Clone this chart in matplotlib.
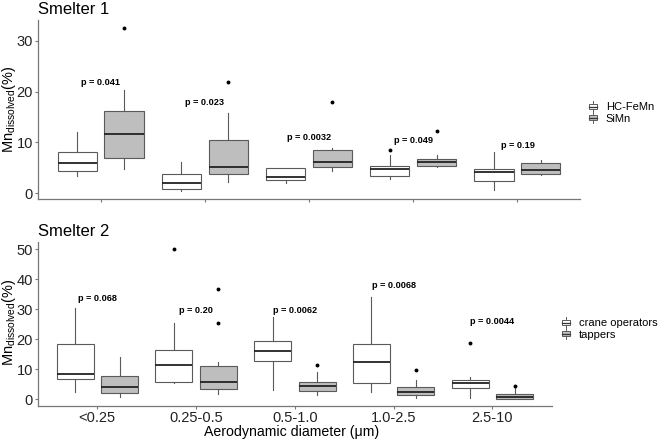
import matplotlib
matplotlib.use('Agg')
import matplotlib.pyplot as plt
from matplotlib.patches import Patch, Rectangle
from matplotlib.lines import Line2D
from matplotlib.legend_handler import HandlerBase

plt.rcParams['font.family'] = ['Liberation Sans', 'DejaVu Sans']
plt.rcParams['mathtext.fontset'] = 'custom'
plt.rcParams['mathtext.rm'] = 'Liberation Sans'

categories = ['<0.25', '0.25-0.5', '0.5-1.0', '1.0-2.5', '2.5-10']

# box stats: (whislo, q1, median, q3, whishi)
hcfemn = [(3.4, 4.4, 6.0, 8.2, 12.0), (0.45, 0.9, 2.0, 3.7, 6.2), (2.1, 2.6, 3.3, 4.9, 5.0),
          (2.8, 3.4, 4.7, 5.3, 7.5), (0.65, 2.4, 4.2, 4.8, 8.1)]
hcfemn_out = [[], [], [], [8.5], []]
simn = [(4.7, 6.9, 11.7, 16.2, 20.4), (2.2, 3.7, 5.2, 10.4, 15.8), (4.4, 5.2, 6.2, 8.6, 9.0),
        (5.1, 5.4, 6.1, 6.8, 7.5), (3.6, 3.7, 4.5, 6.0, 6.5)]
simn_out = [[32.4], [21.9], [17.9], [12.2], []]
p_smelter1 = ['0.041', '0.023', '0.0032', '0.049', '0.19']
p_smelter1_y = [21.8, 17.8, 10.9, 10.3, 9.4]

crane = [(2.3, 6.7, 8.3, 18.4, 30.3), (5.3, 5.9, 11.4, 16.5, 25.5), (3.1, 12.9, 16.0, 19.5, 27.3),
         (2.5, 5.5, 12.4, 18.3, 34.0), (0.3, 3.9, 5.3, 6.3, 7.3)]
crane_out = [[], [50.0], [], [], [18.7]]
tappers = [(0.7, 2.1, 4.2, 7.8, 14.0), (1.9, 3.4, 5.9, 11.0, 12.5), (1.4, 2.9, 4.5, 5.8, 9.2),
           (0.3, 1.3, 2.3, 4.2, 6.4), (0.0, 0.1, 0.9, 1.8, 4.3)]
tappers_out = [[], [36.8, 25.3], [11.4], [9.7], [4.5]]
p_smelter2 = ['0.068', '0.20', '0.0062', '0.0068', '0.0044']
p_smelter2_y = [33.5, 29.5, 29.5, 37.8, 25.8]

EDGE = '#5a5a5a'
GREY = '#bebebe'


class BoxKey(HandlerBase):
    # little boxplot glyph like the ggplot legend key
    def create_artists(self, legend, orig, xd, yd, w, h, fs, trans):
        x0, y0 = -xd, -yd
        box = Rectangle((x0, y0 + 0.2 * h), w, 0.6 * h, facecolor=orig.get_facecolor(),
                        edgecolor=EDGE, lw=0.7, transform=trans)
        med = Line2D([x0, x0 + w], [y0 + 0.5 * h] * 2, color='#333333', lw=0.9, transform=trans)
        wu = Line2D([x0 + w / 2] * 2, [y0 + 0.8 * h, y0 + 1.15 * h], color=EDGE, lw=0.7, transform=trans)
        wl = Line2D([x0 + w / 2] * 2, [y0 - 0.15 * h, y0 + 0.2 * h], color=EDGE, lw=0.7, transform=trans)
        return [box, med, wu, wl]


def panel(ax, s1, o1, s2, o2, pvals, py, ylim, yticks):
    for stats, outs, off, fc in ((s1, o1, -0.225, 'white'), (s2, o2, 0.225, GREY)):
        bx = [dict(whislo=s[0], q1=s[1], med=s[2], q3=s[3], whishi=s[4], fliers=o)
              for s, o in zip(stats, outs)]
        ax.bxp(bx, positions=[i + 1 + off for i in range(len(bx))], widths=0.375,
               patch_artist=True, showcaps=False, manage_ticks=False,
               boxprops=dict(facecolor=fc, edgecolor=EDGE, linewidth=0.8),
               whiskerprops=dict(color=EDGE, linewidth=0.8),
               medianprops=dict(color='#222222', linewidth=1.3),
               flierprops=dict(marker='o', markersize=1.8, markerfacecolor='black',
                               markeredgecolor='black'))
    for i, (p, y) in enumerate(zip(pvals, py)):
        ax.text(i + 1, y, 'p = ' + p, ha='center', va='center', fontsize=6.6, fontweight='bold')
    ax.set_xlim(0.4, 5.6)
    ax.set_ylim(*ylim)
    ax.set_yticks(yticks)
    ax.set_xticks(range(1, 6))
    for s in ('top', 'right'):
        ax.spines[s].set_visible(False)
    for s in ('left', 'bottom'):
        ax.spines[s].set_color('#777777')
        ax.spines[s].set_linewidth(0.9)
    ax.tick_params(colors='#777777', labelcolor='#222222', labelsize=10.5, length=2.5, width=0.8, pad=1.2)


fig = plt.figure(figsize=(6.61, 4.40), dpi=100)
ax1 = fig.add_axes([38 / 661, 1 - 199 / 440, (580 - 38) / 661, (199 - 20) / 440])
ax2 = fig.add_axes([38 / 661, 1 - 406 / 440, (551.7 - 38) / 661, (406 - 241.7) / 440])

panel(ax1, hcfemn, hcfemn_out, simn, simn_out, p_smelter1, p_smelter1_y, (-1.12, 34.07), [0, 10, 20, 30])
ax1.set_xticklabels([])
panel(ax2, crane, crane_out, tappers, tappers_out, p_smelter2, p_smelter2_y, (-2.23, 52.5), [0, 10, 20, 30, 40, 50])
ax2.set_xticklabels(categories)

fig.text(38 / 661, 1 - 9 / 440, 'Smelter 1', fontsize=12, va='center', ha='left')
fig.text(38 / 661, 1 - 231 / 440, 'Smelter 2', fontsize=12, va='center', ha='left')
ylab = r'Mn$_{\mathrm{dissolved}}$(%)'
fig.text(9 / 661, 1 - 109 / 440, ylab, rotation=90, fontsize=10.5, va='center', ha='center')
fig.text(9 / 661, 1 - 322 / 440, ylab, rotation=90, fontsize=10.5, va='center', ha='center')
fig.text(292 / 661, 1 - 432 / 440, 'Aerodynamic diameter (μm)', fontsize=10.2, va='center', ha='center')

leg_kw = dict(frameon=False, fontsize=8, handlelength=0.7, handleheight=0.7, handletextpad=0.8,
              labelspacing=0.1, borderpad=0, borderaxespad=0, loc='center left',
              handler_map={Patch: BoxKey()})
fig.legend([Patch(facecolor='white'), Patch(facecolor=GREY)], ['HC-FeMn', 'SiMn'],
           bbox_to_anchor=(589 / 661, 1 - 113 / 440), **leg_kw)
fig.legend([Patch(facecolor='white'), Patch(facecolor=GREY)], ['crane operators', 'tappers'],
           bbox_to_anchor=(562 / 661, 1 - 329 / 440), **leg_kw)

fig.savefig('out.png', dpi=100)
